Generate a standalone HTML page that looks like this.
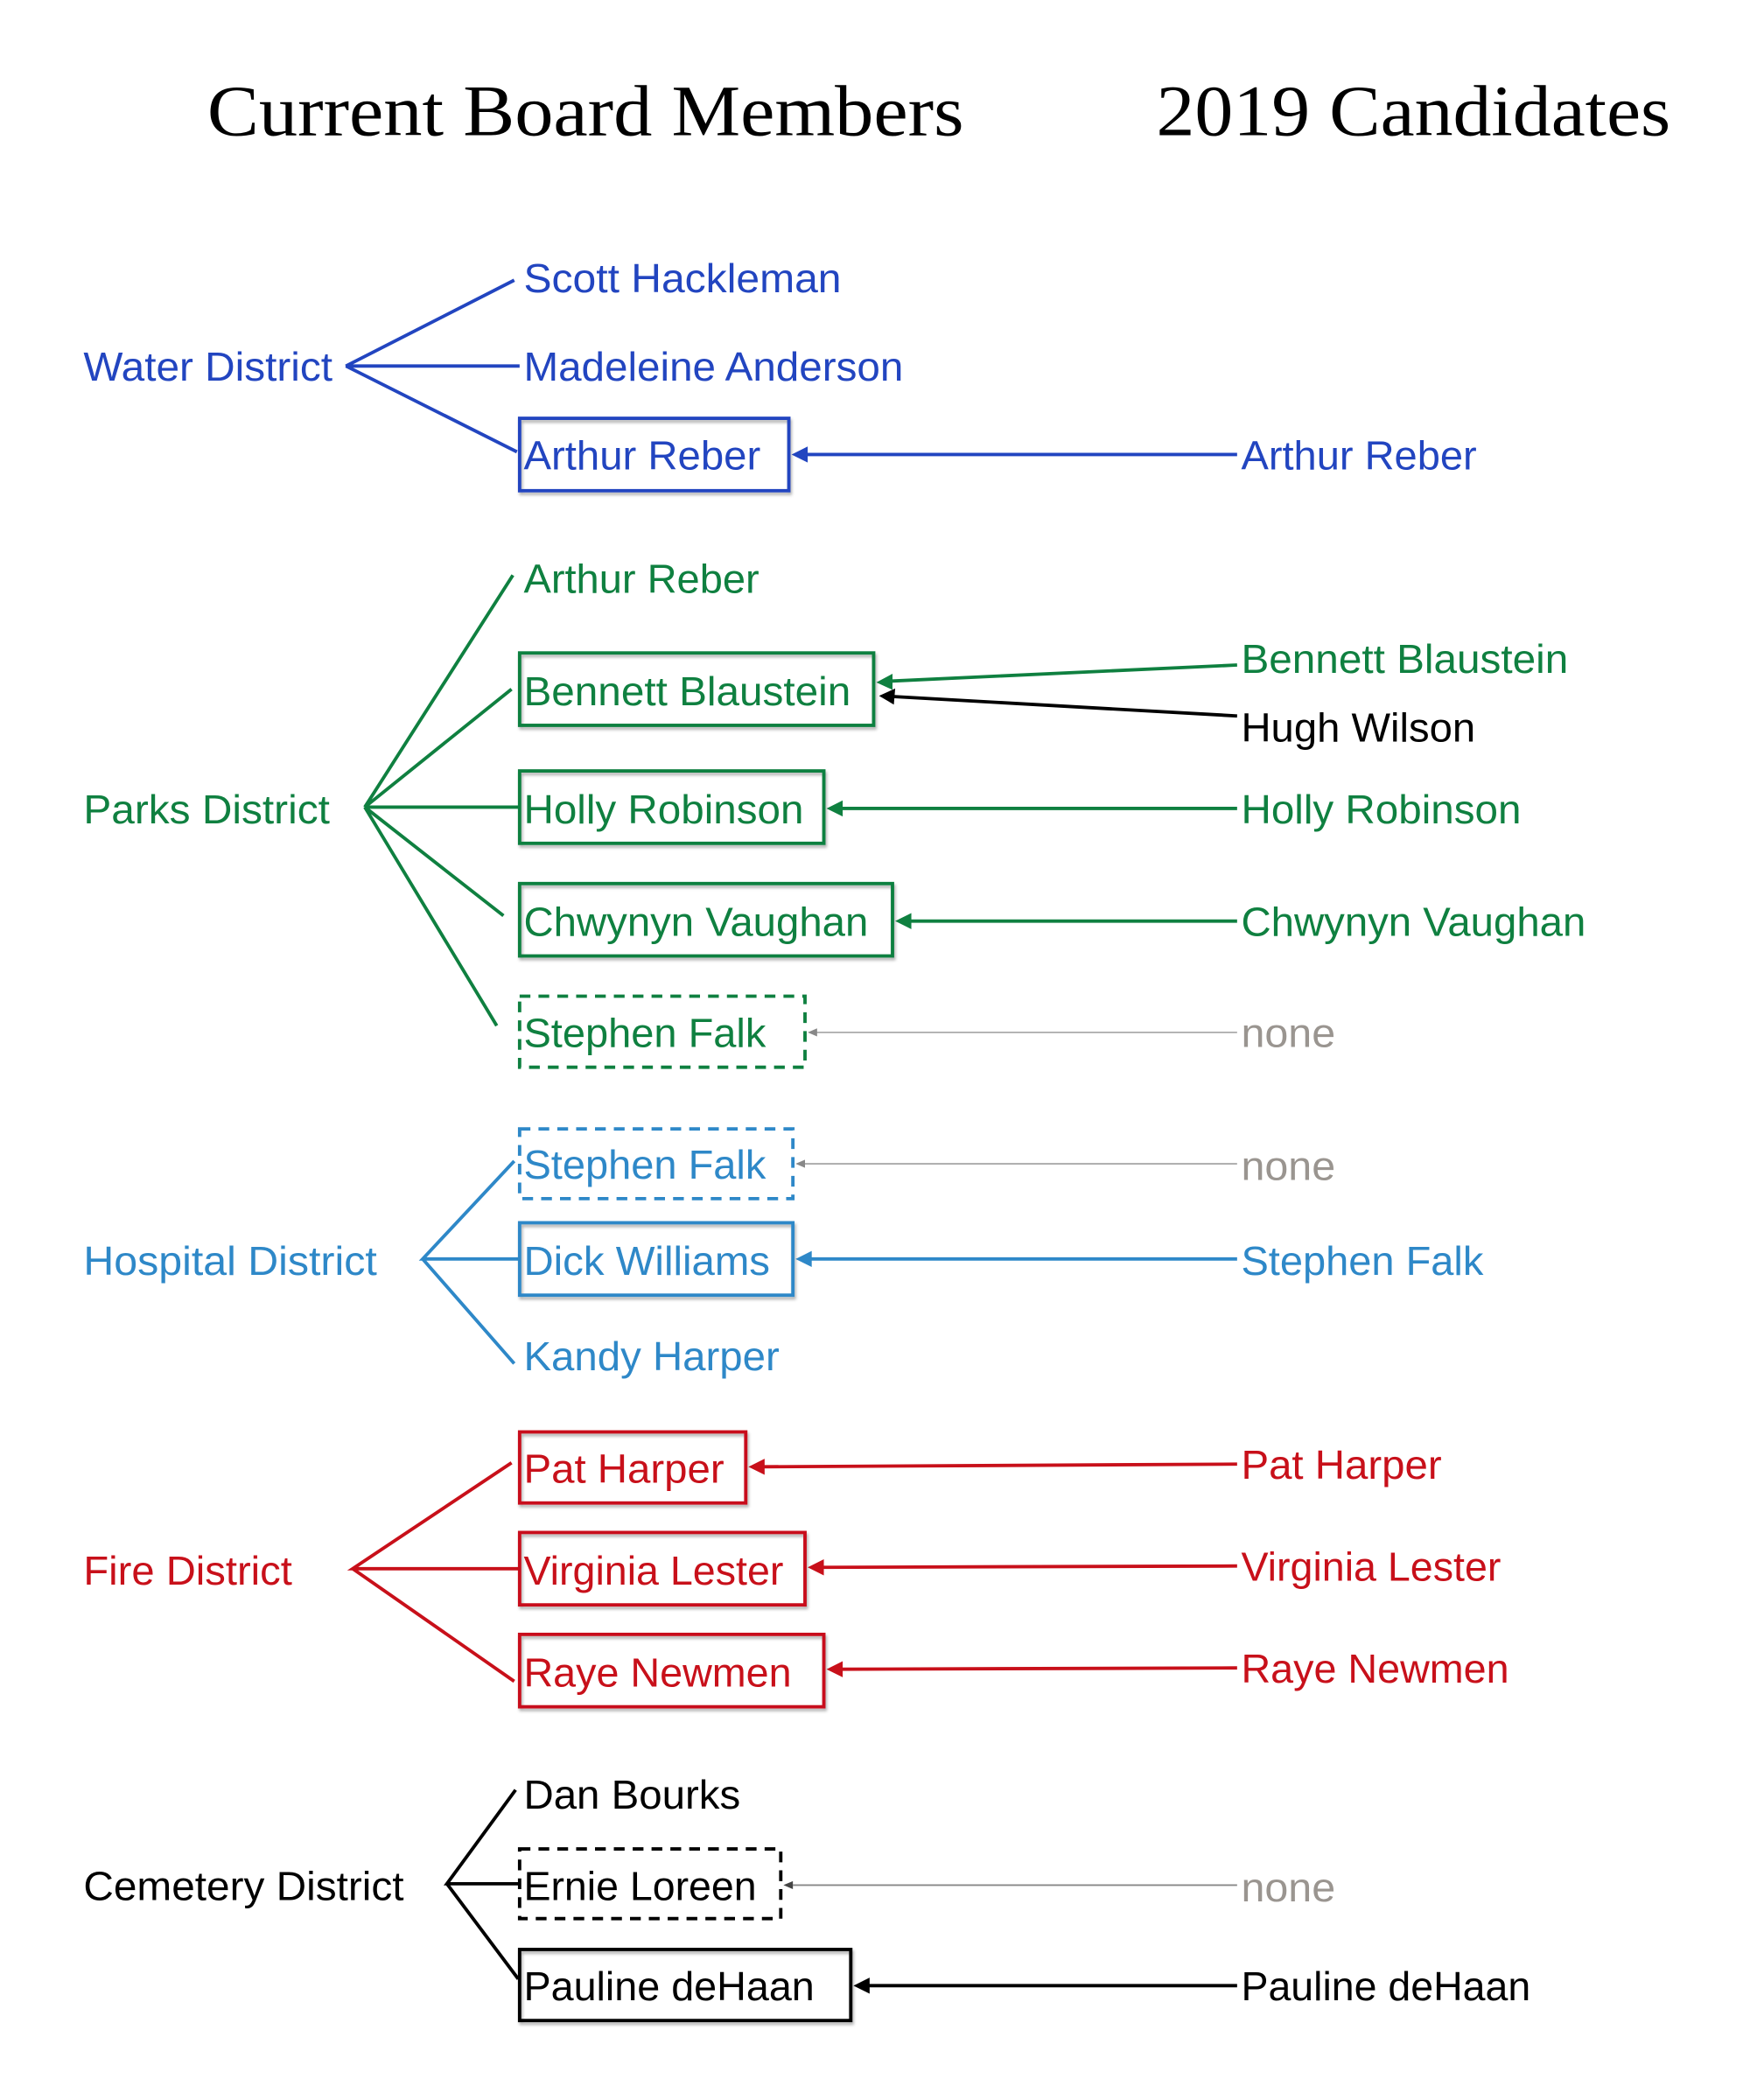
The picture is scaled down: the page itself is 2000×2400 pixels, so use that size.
<!DOCTYPE html>
<html><head><meta charset="utf-8"><style>
html,body{margin:0;padding:0;background:#fff;}
svg{display:block;}
text{font-family:"Liberation Sans",sans-serif;font-size:30px;}
.t{font-family:"Liberation Serif",serif;font-size:54px;}
</style></head><body>
<svg width="2000" height="2400" viewBox="0 0 1300 1560" xmlns="http://www.w3.org/2000/svg">
<defs>
<filter id="sh" x="-5%" y="-10%" width="110%" height="130%"><feDropShadow dx="1" dy="2" stdDeviation="1" flood-color="#000" flood-opacity="0.3"/></filter>
</defs>
<g transform="translate(-1,-2) scale(1,0.996)">
<text class="t" x="155" y="103" textLength="562" lengthAdjust="spacingAndGlyphs">Current Board Members</text>
<text class="t" x="860" y="103" textLength="382" lengthAdjust="spacingAndGlyphs">2019 Candidates</text>

<!-- Water -->
<g fill="#2245c0" stroke="none">
<text x="63" y="286" textLength="185" lengthAdjust="spacingAndGlyphs">Water District</text>
<text x="390" y="220" textLength="236" lengthAdjust="spacingAndGlyphs">Scott Hackleman</text>
<text x="390" y="286" textLength="282" lengthAdjust="spacingAndGlyphs">Madeleine Anderson</text>
<text x="390" y="352" textLength="176" lengthAdjust="spacingAndGlyphs">Arthur Reber</text>
<text x="923" y="352" textLength="175" lengthAdjust="spacingAndGlyphs">Arthur Reber</text>
<path d="M589,341 L601,335 L601,347 Z"/>
</g>
<g stroke="#2245c0" stroke-width="2.5" fill="none">
<path d="M383,211 L258,275 L387,275 M258,275 L385,339"/>
<rect x="387" y="314" width="200" height="54" filter="url(#sh)"/>
<path d="M920,341 L598,341"/>
</g>

<!-- Parks -->
<g fill="#0f8040">
<text x="63" y="616" textLength="183" lengthAdjust="spacingAndGlyphs">Parks District</text>
<text x="390" y="444" textLength="175" lengthAdjust="spacingAndGlyphs">Arthur Reber</text>
<text x="390" y="528" textLength="243" lengthAdjust="spacingAndGlyphs">Bennett Blaustein</text>
<text x="390" y="616" textLength="208" lengthAdjust="spacingAndGlyphs">Holly Robinson</text>
<text x="390" y="700" textLength="256" lengthAdjust="spacingAndGlyphs">Chwynyn Vaughan</text>
<text x="390" y="783" textLength="180" lengthAdjust="spacingAndGlyphs">Stephen Falk</text>
<text x="923" y="504" textLength="243" lengthAdjust="spacingAndGlyphs">Bennett Blaustein</text>
<text x="923" y="616" textLength="208" lengthAdjust="spacingAndGlyphs">Holly Robinson</text>
<text x="923" y="700" textLength="256" lengthAdjust="spacingAndGlyphs">Chwynyn Vaughan</text>
<path d="M652,511 L664,504.5 L664,516.5 Z"/>
<path d="M615,605 L627,599 L627,611 Z"/>
<path d="M666,689 L678,683 L678,695 Z"/>
</g>
<text x="923" y="555" textLength="174" lengthAdjust="spacingAndGlyphs" fill="#000">Hugh Wilson</text>
<text x="923" y="783" textLength="70" lengthAdjust="spacingAndGlyphs" fill="#9a9590">none</text>
<g stroke="#0f8040" stroke-width="2.5" fill="none">
<path d="M382,431 L272,604 L381,516 M272,604 L387,604 M272,604 L375,685 M272,604 L370,767"/>
<rect x="387" y="489" width="263" height="54" filter="url(#sh)"/>
<rect x="387" y="577" width="226" height="54" filter="url(#sh)"/>
<rect x="387" y="661" width="277" height="54" filter="url(#sh)"/>
<rect x="387" y="745" width="212" height="53" stroke-dasharray="8,6"/>
<path d="M920,498 L662,510"/>
<path d="M920,605 L625,605"/>
<path d="M920,689 L676,689"/>
</g>
<path d="M920,536 L664,521.5" stroke="#000" stroke-width="2.5" fill="none"/>
<path d="M654,521 L666,515.5 L665,527.5 Z" fill="#000"/>
<path d="M920,772 L606,772" stroke="#aaa" stroke-width="1.2" fill="none"/>
<path d="M601,772 L608,769 L608,775 Z" fill="#888"/>

<!-- Hospital -->
<g fill="#2e88c8">
<text x="63" y="953" textLength="218" lengthAdjust="spacingAndGlyphs">Hospital District</text>
<text x="390" y="881" textLength="180" lengthAdjust="spacingAndGlyphs">Stephen Falk</text>
<text x="390" y="953" textLength="183" lengthAdjust="spacingAndGlyphs">Dick Williams</text>
<text x="390" y="1024" textLength="190" lengthAdjust="spacingAndGlyphs">Kandy Harper</text>
<text x="923" y="953" textLength="180" lengthAdjust="spacingAndGlyphs">Stephen Falk</text>
<path d="M592,941 L604,935 L604,947 Z"/>
</g>
<text x="923" y="882" textLength="70" lengthAdjust="spacingAndGlyphs" fill="#9a9590">none</text>
<g stroke="#2e88c8" stroke-width="2.5" fill="none">
<path d="M383,868 L315,941 L387,941 M315,941 L383,1019"/>
<rect x="387" y="844" width="203" height="52" stroke-dasharray="8,6"/>
<rect x="387" y="914" width="203" height="54" filter="url(#sh)"/>
<path d="M920,941 L602,941"/>
</g>
<path d="M920,870 L598,870" stroke="#aaa" stroke-width="1.2" fill="none"/>
<path d="M592,870 L599,867 L599,873 Z" fill="#888"/>

<!-- Fire -->
<g fill="#c8101a">
<text x="63" y="1184" textLength="155" lengthAdjust="spacingAndGlyphs">Fire District</text>
<text x="390" y="1108" textLength="149" lengthAdjust="spacingAndGlyphs">Pat Harper</text>
<text x="390" y="1184" textLength="193" lengthAdjust="spacingAndGlyphs">Virginia Lester</text>
<text x="390" y="1260" textLength="199" lengthAdjust="spacingAndGlyphs">Raye Newmen</text>
<text x="923" y="1105" textLength="149" lengthAdjust="spacingAndGlyphs">Pat Harper</text>
<text x="923" y="1181" textLength="193" lengthAdjust="spacingAndGlyphs">Virginia Lester</text>
<text x="923" y="1257" textLength="199" lengthAdjust="spacingAndGlyphs">Raye Newmen</text>
<path d="M557,1096 L569,1090 L569,1102 Z"/>
<path d="M601,1171 L613,1165 L613,1177 Z"/>
<path d="M615,1247 L627,1241 L627,1253 Z"/>
</g>
<g stroke="#c8101a" stroke-width="2.5" fill="none">
<path d="M381,1093 L263,1172 L387,1172 M263,1172 L383,1256"/>
<rect x="387" y="1070" width="168" height="53" filter="url(#sh)"/>
<rect x="387" y="1145" width="212" height="54" filter="url(#sh)"/>
<rect x="387" y="1221" width="226" height="54" filter="url(#sh)"/>
<path d="M920,1094 L567,1096"/>
<path d="M920,1170 L611,1171"/>
<path d="M920,1246 L625,1247"/>
</g>

<!-- Cemetery -->
<g fill="#000">
<text x="63" y="1419" textLength="238" lengthAdjust="spacingAndGlyphs">Cemetery District</text>
<text x="390" y="1351" textLength="161" lengthAdjust="spacingAndGlyphs">Dan Bourks</text>
<text x="390" y="1419" textLength="173" lengthAdjust="spacingAndGlyphs">Ernie Loreen</text>
<text x="390" y="1494" textLength="216" lengthAdjust="spacingAndGlyphs">Pauline deHaan</text>
<text x="923" y="1494" textLength="215" lengthAdjust="spacingAndGlyphs">Pauline deHaan</text>
<path d="M635,1483 L647,1477 L647,1489 Z"/>
</g>
<text x="923" y="1420" textLength="70" lengthAdjust="spacingAndGlyphs" fill="#9a9590">none</text>
<g stroke="#000" stroke-width="2.5" fill="none">
<path d="M384,1337 L333,1407 L387,1407 M333,1407 L386,1478"/>
<rect x="387" y="1381" width="194" height="52" stroke-dasharray="8,6"/>
<rect x="387" y="1456" width="246" height="53" filter="url(#sh)"/>
<path d="M920,1483 L645,1483"/>
</g>
<path d="M920,1408 L590,1408" stroke="#888" stroke-width="1.2" fill="none"/>
<path d="M583,1408 L590,1405 L590,1411 Z" fill="#444"/>
</g>
</svg>
</body></html>
